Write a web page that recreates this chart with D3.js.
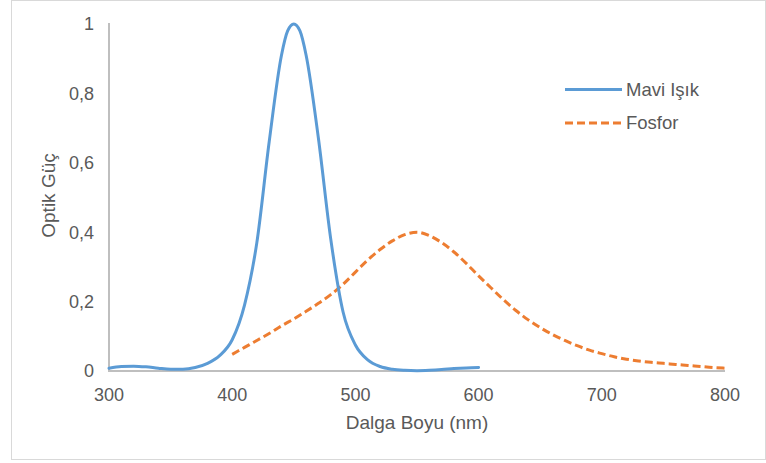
<!DOCTYPE html>
<html>
<head>
<meta charset="utf-8">
<script src="https://cdn.jsdelivr.net/npm/d3@7"></script>
<style>
  body { margin: 0; background: #fff; }
  svg text { font-family: "Liberation Sans", Arial, sans-serif; fill: #595959; }
</style>
</head>
<body>
<div id="chart"></div>
<script>
// wavelengths (nm) for each series
const blueWave = [300, 310, 320, 330, 340, 350, 360, 370, 380, 390, 400, 410, 420, 430, 440, 445, 450,
  455, 460, 470, 480, 490, 500, 510, 520, 530, 540, 550, 560, 570, 580, 590, 600];
const blueValues = [0.008, 0.013, 0.014, 0.012, 0.008, 0.005, 0.005, 0.010, 0.022, 0.045, 0.090, 0.19, 0.37, 0.66, 0.91, 0.98, 1.0,
  0.98, 0.91, 0.67, 0.38, 0.17, 0.075, 0.032, 0.013, 0.005, 0.002, 0.001, 0.002, 0.004, 0.007, 0.009, 0.010];

const orangeWave = [400, 410, 420, 430, 440, 450, 460, 470, 480, 490, 500, 510, 520, 530, 540, 550,
  560, 570, 580, 590, 600, 610, 620, 630, 640, 650, 660, 670, 680, 690, 700,
  710, 720, 730, 740, 750, 760, 770, 780, 790, 800];
const orangeValues = [0.048, 0.068, 0.088, 0.108, 0.13, 0.15, 0.172, 0.195, 0.22, 0.25, 0.285, 0.32, 0.35, 0.375, 0.393, 0.40,
  0.39, 0.37, 0.343, 0.31, 0.274, 0.24, 0.206, 0.175, 0.148, 0.125, 0.105, 0.088, 0.073, 0.06, 0.05,
  0.041, 0.034, 0.029, 0.025, 0.022, 0.019, 0.016, 0.013, 0.010, 0.008];

const xTicks = [300, 400, 500, 600, 700, 800];
const yTicks = [0, 0.2, 0.4, 0.6, 0.8, 1];
const seriesNames = ["Mavi Işık", "Fosfor"];

const width = 766, height = 463;
const svg = d3.select("#chart").append("svg")
  .attr("width", width)
  .attr("height", height);

// chart border
svg.append("rect")
  .attr("x", 11.5).attr("y", 0.5)
  .attr("width", 754).attr("height", 459)
  .attr("fill", "none")
  .attr("stroke", "#d9d9d9");

const x = d3.scaleLinear().domain([300, 800]).range([109, 725]);
const y = d3.scaleLinear().domain([0, 1]).range([371, 24]);

// axes lines
svg.append("line")
  .attr("x1", x(300)).attr("x2", x(300))
  .attr("y1", y(1) - 1).attr("y2", y(0))
  .attr("stroke", "#bfbfbf").attr("stroke-width", 2);
svg.append("line")
  .attr("x1", x(300) - 1).attr("x2", x(800))
  .attr("y1", y(0)).attr("y2", y(0))
  .attr("stroke", "#bfbfbf").attr("stroke-width", 2);

const fmt = d => String(d).replace(".", ",");

svg.append("g").selectAll("text")
  .data(yTicks)
  .enter().append("text")
  .attr("x", 94)
  .attr("y", d => y(d))
  .attr("dy", "0.35em")
  .attr("text-anchor", "end")
  .style("font-size", "18px")
  .text(fmt);

svg.append("g").selectAll("text")
  .data(xTicks)
  .enter().append("text")
  .attr("x", d => x(d))
  .attr("y", 401)
  .attr("text-anchor", "middle")
  .style("font-size", "18px")
  .text(d => d);

// axis titles
svg.append("text")
  .attr("x", 417).attr("y", 429)
  .attr("text-anchor", "middle")
  .style("font-size", "19px")
  .text("Dalga Boyu (nm)");

svg.append("text")
  .attr("transform", "translate(54.5,195.5) rotate(-90)")
  .attr("text-anchor", "middle")
  .style("font-size", "19px")
  .text("Optik Güç");

const line = d3.line()
  .x(d => x(d[0]))
  .y(d => y(d[1]))
  .curve(d3.curveMonotoneX);

svg.append("path")
  .datum(d3.zip(orangeWave, orangeValues))
  .attr("fill", "none")
  .attr("stroke", "#ed7d31")
  .attr("stroke-width", 3)
  .attr("stroke-dasharray", "8,4")
  .attr("d", line);

svg.append("path")
  .datum(d3.zip(blueWave, blueValues))
  .attr("fill", "none")
  .attr("stroke", "#5b9bd5")
  .attr("stroke-width", 3)
  .attr("stroke-linecap", "round")
  .attr("d", line);

// legend
const legend = svg.append("g").selectAll("g")
  .data(seriesNames)
  .enter().append("g")
  .attr("transform", (d, i) => "translate(565," + (89.5 + i * 33.5) + ")");

legend.append("line")
  .attr("x1", 0).attr("x2", 57)
  .attr("stroke", (d, i) => i === 0 ? "#5b9bd5" : "#ed7d31")
  .attr("stroke-width", 3)
  .attr("stroke-dasharray", (d, i) => i === 0 ? null : "8,4");

legend.append("text")
  .attr("x", 61)
  .attr("y", 0)
  .attr("dy", "0.35em")
  .style("font-size", "18.5px")
  .text(d => d);
</script>
</body>
</html>
